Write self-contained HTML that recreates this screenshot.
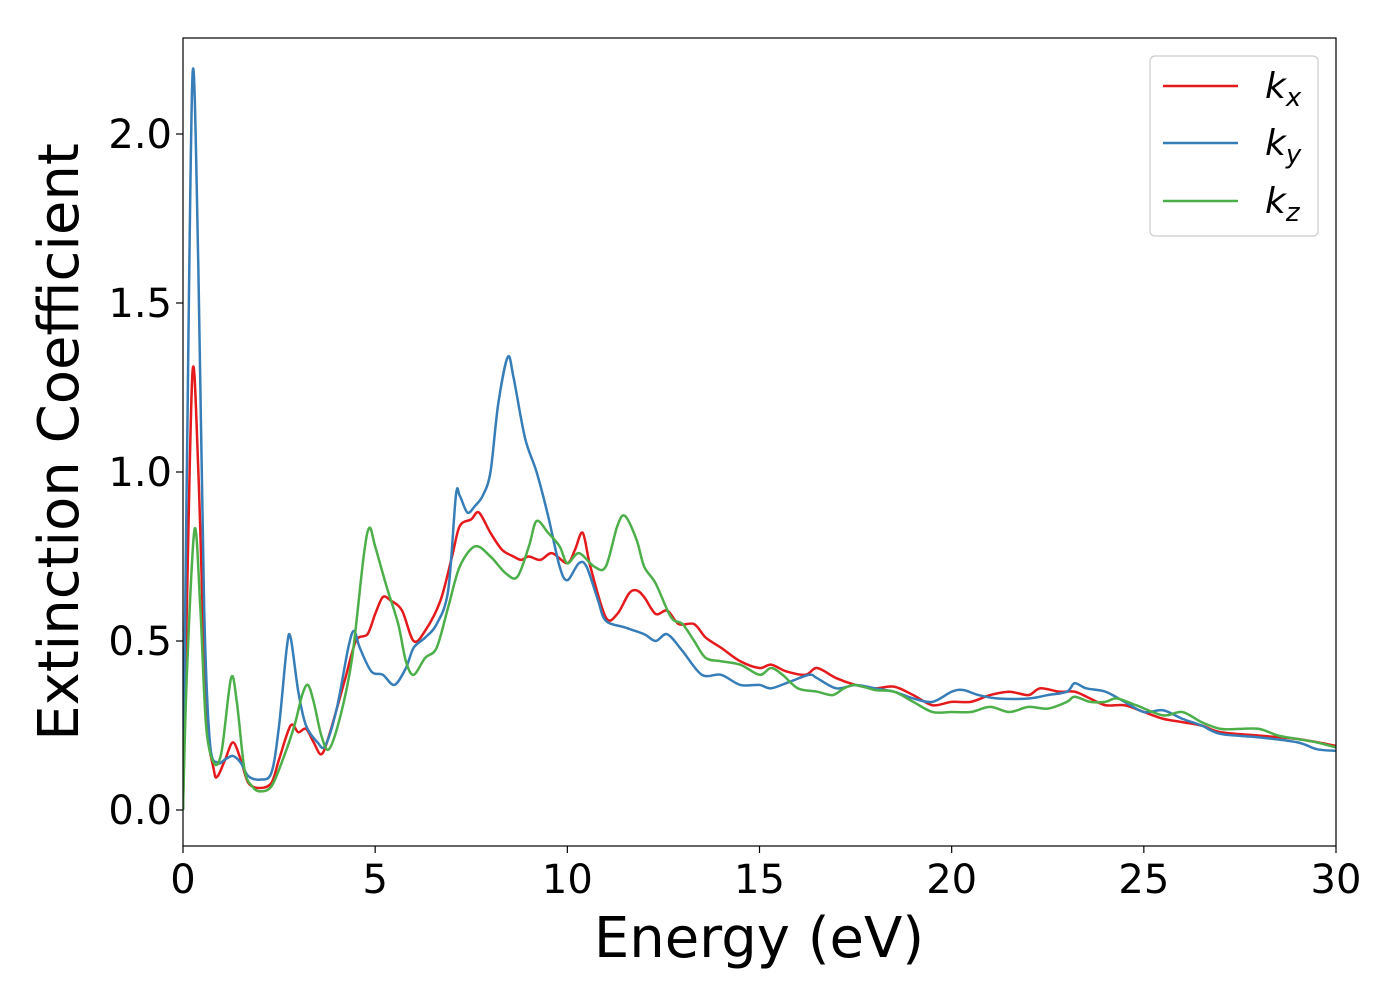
<!DOCTYPE html>
<html><head><meta charset="utf-8"><style>
html,body{margin:0;padding:0;background:#fff;}
svg{display:block;font-family:"DejaVu Sans","Liberation Sans",sans-serif;}
</style></head><body>
<svg id="chart" width="1400" height="1000" viewBox="0 0 1400 1000">
<rect x="0" y="0" width="1400" height="1000" fill="#fff"/>
<defs><clipPath id="clip"><rect x="183" y="38" width="1153" height="808"/></clipPath></defs>
<g id="series" clip-path="url(#clip)"></g>
<rect x="183" y="38" width="1153" height="808" fill="none" stroke="#000" stroke-width="1.2"/>
<g id="axes"></g>
<text x="759" y="957" font-size="56" text-anchor="middle">Energy (eV)</text>
<text transform="translate(78,442) rotate(-90)" font-size="56" text-anchor="middle">Extinction Coefficient</text>
<g>
<rect x="1150" y="56" width="168" height="180" rx="5" fill="#fff" stroke="#ccc" stroke-width="1.2"/>
<g><line x1="1163" y1="86" x2="1238" y2="86" stroke="#e41a1c" stroke-width="2.5"/><text x="1265" y="98" font-size="36" font-style="italic">k<tspan font-size="26" dy="8">x</tspan></text></g>
<g><line x1="1163" y1="143" x2="1238" y2="143" stroke="#377eb8" stroke-width="2.5"/><text x="1265" y="155" font-size="36" font-style="italic">k<tspan font-size="26" dy="8">y</tspan></text></g>
<g><line x1="1163" y1="201" x2="1238" y2="201" stroke="#4daf4a" stroke-width="2.5"/><text x="1265" y="213" font-size="36" font-style="italic">k<tspan font-size="26" dy="8">z</tspan></text></g>
</g>
</svg>
<script>
const xTicks=[0,5,10,15,20,25,30];
const yTicks=[0.0,0.5,1.0,1.5,2.0];
const yTickLabels=["0.0","0.5","1.0","1.5","2.0"];
const kxE=[0,0.1,0.25,0.4,0.6,0.8,0.9,1.1,1.3,1.5,1.7,2.0,2.3,2.5,2.8,3.0,3.2,3.4,3.6,3.8,4.2,4.5,4.8,5.0,5.2,5.4,5.7,6.0,6.3,6.7,7.0,7.2,7.5,7.7,8.0,8.3,8.6,8.8,9.0,9.3,9.6,10.0,10.2,10.4,10.6,11.0,11.3,11.6,11.8,12.0,12.3,12.6,12.9,13.3,13.6,14.0,14.5,15.0,15.3,15.7,16.2,16.5,17.0,17.5,18.0,18.5,19.0,19.5,20.0,20.5,21.0,21.5,22.0,22.3,22.8,23.2,23.6,24.0,24.5,25.0,25.5,26.0,26.5,27.0,28.0,29.0,30.0];
const kxV=[0,0.6,1.30,1.0,0.3,0.12,0.10,0.15,0.20,0.15,0.08,0.065,0.08,0.15,0.25,0.23,0.24,0.20,0.165,0.22,0.38,0.50,0.52,0.58,0.63,0.62,0.59,0.50,0.53,0.62,0.75,0.84,0.86,0.88,0.82,0.77,0.75,0.74,0.75,0.74,0.76,0.73,0.77,0.82,0.72,0.57,0.58,0.64,0.65,0.63,0.58,0.59,0.55,0.55,0.51,0.48,0.44,0.42,0.43,0.41,0.40,0.42,0.39,0.37,0.36,0.365,0.34,0.31,0.32,0.32,0.34,0.35,0.34,0.36,0.35,0.35,0.33,0.31,0.31,0.29,0.27,0.26,0.25,0.23,0.22,0.21,0.19];
const kyE=[0,0.1,0.25,0.4,0.55,0.7,0.9,1.1,1.3,1.5,1.7,2.0,2.3,2.5,2.7,2.8,3.0,3.2,3.5,3.7,4.0,4.3,4.45,4.6,4.9,5.2,5.5,5.8,6.0,6.3,6.6,6.9,7.1,7.2,7.4,7.6,7.8,8.0,8.2,8.45,8.6,8.9,9.2,9.5,9.8,10.0,10.3,10.5,10.8,11.0,11.5,12.0,12.3,12.6,13.0,13.5,14.0,14.5,15.0,15.3,15.8,16.3,16.5,17.0,17.5,18.0,18.5,19.0,19.5,20.0,20.3,20.7,21.2,22.0,22.5,23.0,23.2,23.5,24.0,24.5,25.0,25.5,26.0,26.5,27.0,28.0,29.0,29.5,30];
const kyV=[0,1.0,2.18,1.6,0.6,0.2,0.14,0.15,0.16,0.14,0.10,0.09,0.11,0.25,0.48,0.51,0.35,0.25,0.20,0.19,0.30,0.48,0.53,0.48,0.41,0.40,0.37,0.42,0.48,0.51,0.55,0.65,0.93,0.93,0.88,0.90,0.93,1.00,1.20,1.34,1.28,1.10,1.00,0.87,0.72,0.68,0.73,0.72,0.62,0.56,0.54,0.52,0.50,0.52,0.47,0.40,0.40,0.37,0.37,0.36,0.38,0.40,0.39,0.36,0.37,0.36,0.35,0.33,0.32,0.35,0.355,0.34,0.33,0.33,0.34,0.35,0.375,0.36,0.35,0.32,0.29,0.295,0.27,0.25,0.225,0.215,0.20,0.18,0.175];
const kzE=[0,0.1,0.3,0.45,0.6,0.8,1.0,1.25,1.4,1.6,1.8,2.0,2.3,2.6,2.9,3.1,3.25,3.4,3.6,3.8,4.1,4.4,4.7,4.85,5.0,5.3,5.6,5.8,6.0,6.3,6.6,6.9,7.2,7.6,8.0,8.4,8.7,9.0,9.2,9.5,9.8,10.0,10.3,10.7,11.0,11.3,11.5,11.8,12.0,12.3,12.7,13.0,13.3,13.6,14.0,14.5,15.0,15.3,15.6,16.0,16.5,16.9,17.2,17.5,18.0,18.5,19.0,19.5,20.0,20.5,21.0,21.5,22.0,22.5,23.0,23.2,23.6,24.0,24.3,24.8,25.5,26.0,26.5,27.0,27.5,28.0,28.5,29.0,29.5,30];
const kzV=[0,0.4,0.83,0.6,0.25,0.14,0.17,0.39,0.32,0.12,0.07,0.055,0.07,0.15,0.25,0.34,0.37,0.32,0.22,0.18,0.28,0.45,0.75,0.835,0.78,0.66,0.55,0.44,0.40,0.45,0.48,0.60,0.72,0.78,0.75,0.70,0.69,0.78,0.855,0.82,0.78,0.73,0.76,0.72,0.72,0.84,0.87,0.80,0.72,0.67,0.57,0.55,0.50,0.45,0.44,0.43,0.40,0.42,0.40,0.36,0.35,0.34,0.36,0.37,0.355,0.35,0.32,0.29,0.29,0.29,0.305,0.29,0.305,0.30,0.32,0.335,0.32,0.32,0.33,0.31,0.28,0.29,0.26,0.24,0.24,0.24,0.22,0.21,0.20,0.185];

const NS="http://www.w3.org/2000/svg";
const xS=e=>183+e*(1153/30);
const yS=v=>810-v*338;
function pathFor(E,V){
  const p=E.map((e,i)=>[xS(e),yS(V[i])]);
  let d="M"+p[0][0]+","+p[0][1];
  for(let i=0;i<p.length-1;i++){
    const p0=p[Math.max(0,i-1)],p1=p[i],p2=p[i+1],p3=p[Math.min(p.length-1,i+2)];
    const t=0.16;
    const c1=[p1[0]+(p2[0]-p0[0])*t,p1[1]+(p2[1]-p0[1])*t];
    const c2=[p2[0]-(p3[0]-p1[0])*t,p2[1]-(p3[1]-p1[1])*t];
    d+=" C"+c1[0]+","+c1[1]+" "+c2[0]+","+c2[1]+" "+p2[0]+","+p2[1];
  }
  return d;
}
const g=document.getElementById("series");
[[kxE,kxV,"#e41a1c","kx-line"],[kyE,kyV,"#377eb8","ky-line"],[kzE,kzV,"#4daf4a","kz-line"]].forEach(s=>{
  const el=document.createElementNS(NS,"path");
  el.setAttribute("d",pathFor(s[0],s[1]));
  el.setAttribute("fill","none");el.setAttribute("stroke",s[2]);el.setAttribute("stroke-width","2.5");
  
  
  g.appendChild(el);
});
const ax=document.getElementById("axes");
xTicks.forEach(t=>{
  const l=document.createElementNS(NS,"line");
  l.setAttribute("x1",xS(t));l.setAttribute("x2",xS(t));l.setAttribute("y1",846);l.setAttribute("y2",853);
  l.setAttribute("stroke","#000");l.setAttribute("stroke-width","1.2");
  
  
  ax.appendChild(l);
  const tx=document.createElementNS(NS,"text");
  tx.setAttribute("x",xS(t));tx.setAttribute("y",893);tx.setAttribute("font-size","40");tx.setAttribute("text-anchor","middle");
  tx.textContent=String(t);
  
  
  ax.appendChild(tx);
});
yTicks.forEach((t,i)=>{
  const l=document.createElementNS(NS,"line");
  l.setAttribute("x1",176);l.setAttribute("x2",183);l.setAttribute("y1",yS(t));l.setAttribute("y2",yS(t));
  l.setAttribute("stroke","#000");l.setAttribute("stroke-width","1.2");
  
  
  ax.appendChild(l);
  const tx=document.createElementNS(NS,"text");
  tx.setAttribute("x",172);tx.setAttribute("y",yS(t)+14);tx.setAttribute("font-size","40");tx.setAttribute("text-anchor","end");
  tx.textContent=yTickLabels[i];
  
  
  ax.appendChild(tx);
});
</script>
</body></html>
